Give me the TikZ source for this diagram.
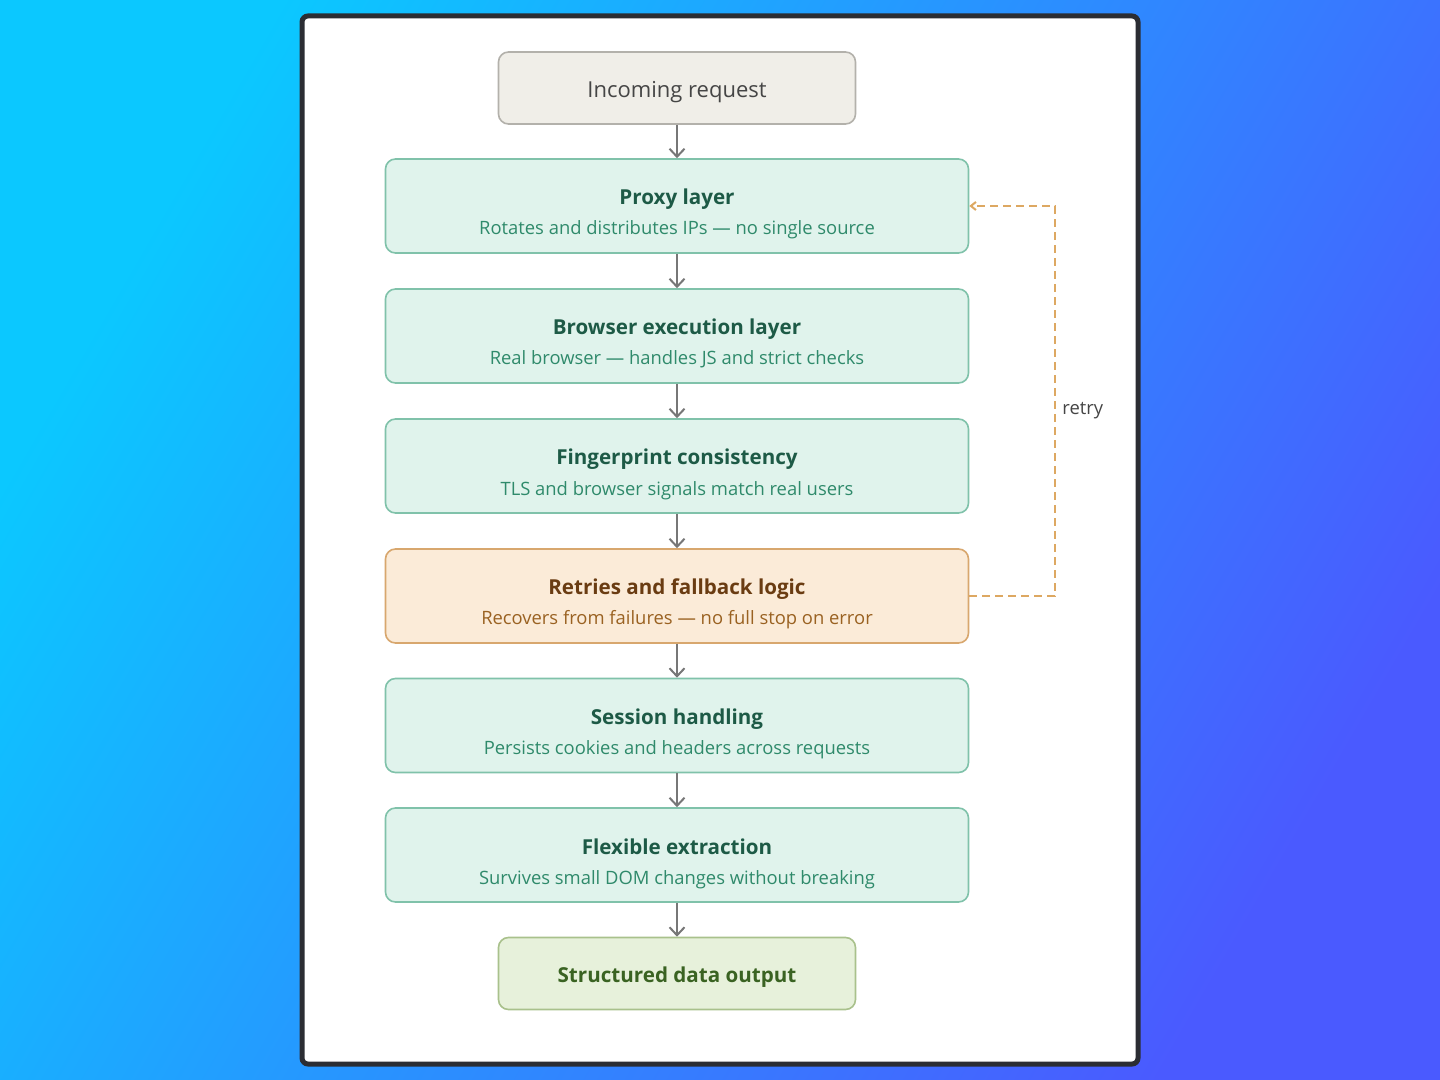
\documentclass[tikz,border=0pt]{standalone}
\usepackage{fontspec}
\setmainfont{Open Sans}
\usetikzlibrary{arrows.meta,positioning,calc}
\definecolor{bgA}{HTML}{0BC8FF}
\definecolor{bgB}{HTML}{4A5AFF}
\definecolor{bgM}{HTML}{2A90FF}
\definecolor{frameC}{HTML}{2B2D33}
\definecolor{grayFill}{HTML}{F0EEE8}
\definecolor{grayLine}{HTML}{B3B1AB}
\definecolor{grayText}{HTML}{454545}
\definecolor{tealFill}{HTML}{E0F3EC}
\definecolor{tealLine}{HTML}{80C2AA}
\definecolor{tealTitle}{HTML}{1D5A46}
\definecolor{tealSub}{HTML}{2F8A6B}
\definecolor{orFill}{HTML}{FBEBD8}
\definecolor{orLine}{HTML}{D8A76E}
\definecolor{orTitle}{HTML}{6A3C12}
\definecolor{orSub}{HTML}{9A6222}
\definecolor{grFill}{HTML}{E7F1DB}
\definecolor{grLine}{HTML}{A9C18C}
\definecolor{grText}{HTML}{3A6322}
\definecolor{arrowC}{HTML}{777777}
\definecolor{retryC}{HTML}{DDA862}
\tikzset{
  box/.style={draw, line width=0.8pt, rounded corners=5pt, inner sep=0pt},
  wide/.style={box, minimum width=291.5pt, minimum height=47pt, fill=tealFill, draw=tealLine},
  narrow/.style={box, minimum width=178.5pt, minimum height=36pt},
  ttl/.style={anchor=base, inner sep=0pt, font=\fontsize{10.3}{12}\selectfont\bfseries},
  sub/.style={anchor=base, inner sep=0pt, font=\fontsize{9.2}{11}\selectfont},
  flow/.style={draw=arrowC, line width=1pt, -{Straight Barb[length=4pt,width=7.5pt]}},
  retryline/.style={draw=retryC, line width=1pt, dash pattern=on 4pt off 2.5pt, -{Straight Barb[length=2.5pt,width=4pt]}},
}
\begin{document}
\begin{tikzpicture}[x=0.5pt,y=-0.5pt]
\useasboundingbox (0,0) rectangle (1440,1080);
\shade[left color=bgA, right color=bgB, middle color=bgM, shading angle=60] (0,0) rectangle (1440,1080);
\draw[frameC, line width=2.5pt, fill=white, rounded corners=3pt] (302,16) rectangle (1138,1064);

% boxes
\node[narrow, fill=grayFill, draw=grayLine] (in) at (677,88) {};
\node[wide] (proxy) at (677,206) {};
\node[wide] (browser) at (677,336) {};
\node[wide] (finger) at (677,466) {};
\node[wide, fill=orFill, draw=orLine] (retry) at (677,596) {};
\node[wide] (session) at (677,725.5) {};
\node[wide] (flex) at (677,855) {};
\node[narrow, fill=grFill, draw=grLine] (out) at (677,973.5) {};

% texts
\node[sub, text=grayText, font=\fontsize{11}{13}\selectfont] (inT) at (677,97.5) {Incoming request};
\node[ttl, text=tealTitle] (proxyT) at (677,205) {Proxy layer};
\node[sub, text=tealSub] (proxyS) at (677,235) {Rotates and distributes IPs — no single source};
\node[ttl, text=tealTitle] (browserT) at (677,335) {Browser execution layer};
\node[sub, text=tealSub] (browserS) at (677,365) {Real browser — handles JS and strict checks};
\node[ttl, text=tealTitle] (fingerT) at (677,465) {Fingerprint consistency};
\node[sub, text=tealSub] (fingerS) at (677,495) {TLS and browser signals match real users};
\node[ttl, text=orTitle] (retryT) at (677,594.5) {Retries and fallback logic};
\node[sub, text=orSub] (retryS) at (677,624.5) {Recovers from failures — no full stop on error};
\node[ttl, text=tealTitle] (sessionT) at (677,724.5) {Session handling};
\node[sub, text=tealSub] (sessionS) at (677,754.5) {Persists cookies and headers across requests};
\node[ttl, text=tealTitle] (flexT) at (677,854) {Flexible extraction};
\node[sub, text=tealSub] (flexS) at (677,884) {Survives small DOM changes without breaking};
\node[ttl, text=grText] (outT) at (677,982.5) {Structured data output};

% connectors
\draw[flow] (in) -- (proxy);
\draw[flow] (proxy) -- (browser);
\draw[flow] (browser) -- (finger);
\draw[flow] (finger) -- (retry);
\draw[flow] (retry) -- (session);
\draw[flow] (session) -- (flex);
\draw[flow] (flex) -- (out);

\coordinate (rA) at (1055,596);
\coordinate (rB) at (1055,206);
\draw[retryline] (retry.east) -- (rA) -- (rB) -- (proxy.east);
\node[text=grayText, font=\fontsize{9.2}{11}\selectfont, anchor=west, inner sep=0pt] (rlab) at (1062,411) {retry};
\end{tikzpicture}
\end{document}
